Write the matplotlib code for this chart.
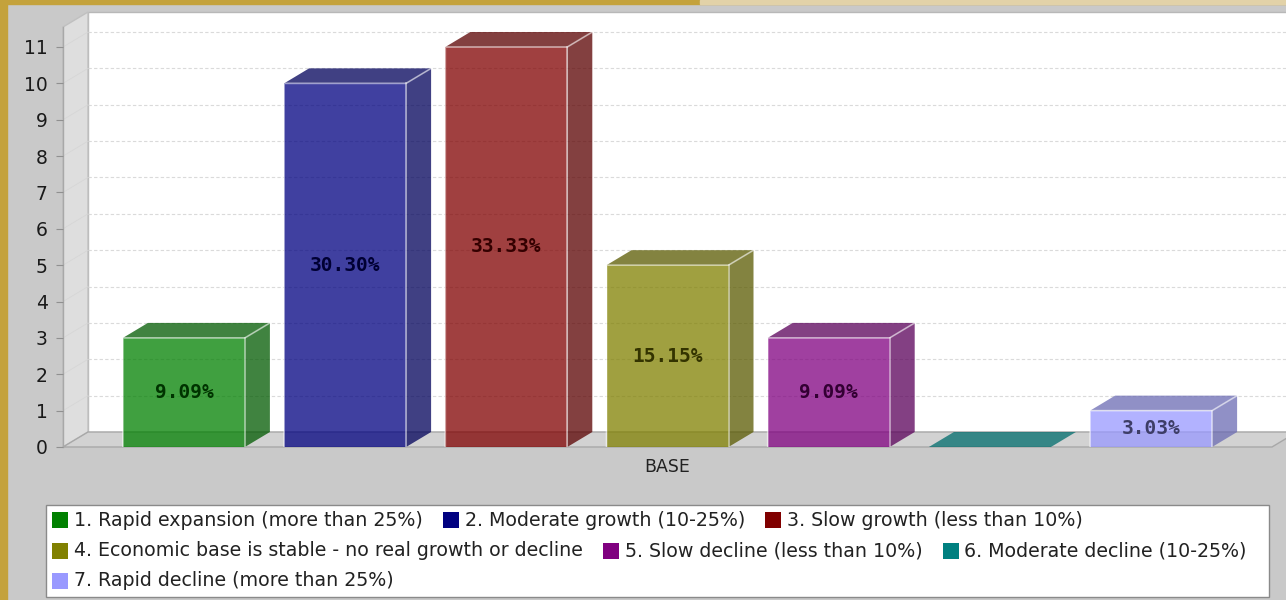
"""Outlook for the local economic base: 3D bar chart with a flowing legend."""
import matplotlib.pyplot as plt
from matplotlib.patches import Polygon, Rectangle
from matplotlib.lines import Line2D
from matplotlib.colors import to_rgb

W, H, DPI = 1286, 600, 100

categories = ["BASE"]
series = [
    "1. Rapid expansion (more than 25%)",
    "2. Moderate growth (10-25%)",
    "3. Slow growth (less than 10%)",
    "4. Economic base is stable - no real growth or decline",
    "5. Slow decline (less than 10%)",
    "6. Moderate decline (10-25%)",
    "7. Rapid decline (more than 25%)",
]
counts = [3, 10, 11, 5, 3, 0, 1]
colors = ["#008000", "#000080", "#800000", "#808000", "#800080", "#008080", "#9999ff"]
yticks = list(range(0, 12))

BG = "#c9c9c9"
GOLD = "#c4a23c"
DEPTH = (25, 15)          # 3D offset in pixels
ALPHA = 0.75

total = sum(counts)
pct_labels = [f"{100 * c / total:.2f}%" for c in counts]


def shade(c, f):
    r, g, b = to_rgb(c)
    return (r * f, g * f, b * f)


fig = plt.figure(figsize=(W / DPI, H / DPI), dpi=DPI)
fig.patch.set_facecolor(BG)

# background layer in pixel units: frame strip, legend
bg = fig.add_axes([0, 0, 1, 1])
bg.set_xlim(0, W)
bg.set_ylim(H, 0)
bg.axis("off")
bg.add_patch(Rectangle((0, 0), 7, H, color=GOLD, zorder=1))
bg.add_patch(Rectangle((0, 0), W, 3.5, color=GOLD, zorder=1))
bg.add_patch(Rectangle((700, 0), W - 700, 3.5, color="#e2d2a8", zorder=1))

# front data area
x0, x1 = 63, 1272
y0, ytop = 447, 27
ax = fig.add_axes([x0 / W, 1 - y0 / H, (x1 - x0) / W, (y0 - ytop) / H])
ax.patch.set_visible(False)
n = len(counts)
ax.set_xlim(-0.75, n - 0.25)
ax.set_ylim(0, (y0 - ytop) / ((y0 - 47) / 11))

# pixel depth -> data units
ppx = (x1 - x0) / (n - 0.25 + 0.75)
ppy = (y0 - ytop) / ax.get_ylim()[1]
dx, dy = DEPTH[0] / ppx, DEPTH[1] / ppy
xl, xr = ax.get_xlim()
ymax = ax.get_ylim()[1]

# walls
wall_kw = dict(clip_on=False, zorder=0.5)
ax.add_patch(Polygon([(xl + dx, dy), (xr + dx, dy), (xr + dx, ymax + dy), (xl + dx, ymax + dy)],
                     facecolor="white", edgecolor="#b8b8b8", lw=1, **wall_kw))
ax.add_patch(Polygon([(xl, 0), (xl + dx, dy), (xl + dx, ymax + dy), (xl, ymax)],
                     facecolor="#dedede", edgecolor="#c0c0c0", lw=1, **wall_kw))
ax.add_patch(Polygon([(xl, 0), (xr, 0), (xr + dx, dy), (xl + dx, dy)],
                     facecolor="#d2d2d2", edgecolor="#a8a8a8", lw=1, **wall_kw))

# gridlines on the back wall and the left wall
for t in yticks[1:]:
    ax.add_line(Line2D([xl + dx, xr + dx], [t + dy, t + dy], color="#dadada",
                       lw=0.8, ls=(0, (3, 2)), clip_on=False, zorder=0.6))
    ax.add_line(Line2D([xl, xl + dx], [t, t + dy], color="#d6d6d6",
                       lw=0.6, clip_on=False, zorder=0.6))

# bars
w = 122 / ppx
for i, (v, c, lab) in enumerate(zip(counts, colors, pct_labels)):
    l, r = i - w / 2, i + w / 2
    edge = (1, 1, 1, 0.55)
    side = shade(c, 0.7)
    if v > 0:
        ax.add_patch(Polygon([(r, 0), (r + dx, dy), (r + dx, v + dy), (r, v)],
                             facecolor=side, alpha=ALPHA, edgecolor="none", zorder=2, clip_on=False))
    ax.add_patch(Polygon([(l, v), (r, v), (r + dx, v + dy), (l + dx, v + dy)],
                         facecolor=side if v > 0 else shade(c, 0.85), alpha=ALPHA,
                         edgecolor="none", zorder=2, clip_on=False))
    if v > 0:
        ax.add_patch(Rectangle((l, 0), w, v, facecolor=c, alpha=ALPHA,
                               edgecolor="none", zorder=3, clip_on=False))
        ax.add_line(Line2D([l, l, r, r + dx], [0, v, v, v + dy], color=edge, lw=1.2, zorder=4))
        ax.add_line(Line2D([r, r], [0, v], color=edge, lw=1.2, zorder=4))
        ax.text(i, v / 2, lab, ha="center", va="center", fontsize=14,
                family="DejaVu Sans Mono", weight="bold", color=shade(c, 0.4), zorder=5)

# axes styling
for s in ax.spines.values():
    s.set_visible(False)
ax.add_line(Line2D([xl, xl], [0, ymax], color="#a8a8a8", lw=1, clip_on=False, zorder=1))
ax.set_yticks(yticks)
ax.tick_params(axis="y", length=5, color="#909090", labelsize=13.5, labelcolor="#1a1a1a", pad=6)
ax.set_xticks([(n - 1) / 2])
ax.set_xticklabels(categories)
ax.tick_params(axis="x", length=0, labelsize=12.5, labelcolor="#222222", pad=8)

# legend: white box, entries flowing left to right
bg.add_patch(Rectangle((46, 505), 1223, 92, facecolor="white", edgecolor="#8a8a8a", lw=1, zorder=2))
rows = [[0, 1, 2], [3, 4, 5], [6]]
row_y = [520, 551, 581]
fig.canvas.draw()
renderer = fig.canvas.get_renderer()
for row, yy in zip(rows, row_y):
    xx = 52
    for k in row:
        bg.add_patch(Rectangle((xx, yy - 8), 16, 16, facecolor=colors[k], edgecolor="none", zorder=3))
        t = bg.text(xx + 22, yy, series[k], ha="left", va="center", fontsize=13.7,
                    color="#222222", zorder=3)
        wpx = t.get_window_extent(renderer).width
        xx += 22 + wpx + 20

fig.savefig("out.png", dpi=DPI, facecolor=fig.get_facecolor())
